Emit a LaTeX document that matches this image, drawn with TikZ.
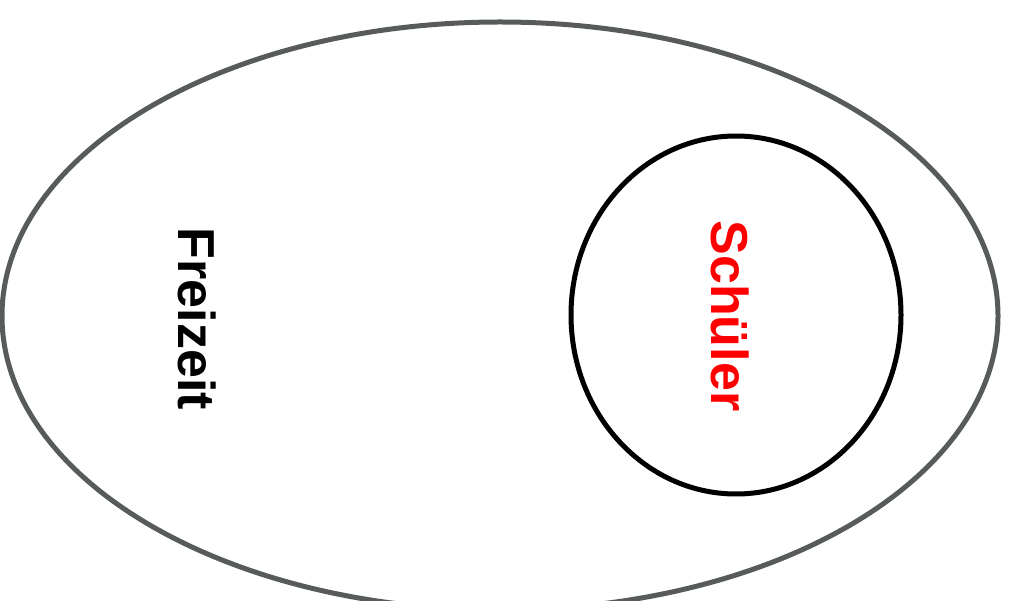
\documentclass[tikz,border=0pt]{standalone}
\usepackage{fontspec}
\setmainfont{Liberation Sans}
\definecolor{outergray}{HTML}{575B5B}
\begin{document}
\begin{tikzpicture}[x=1pt,y=-1pt,
  outer/.style={draw=outergray,line width=5pt},
  inner/.style={draw=black,line width=5pt},
  lbl/.style={font=\fontsize{52}{52}\selectfont\bfseries,rotate=-90,inner sep=0pt}]
\useasboundingbox (0,0) rectangle (1011,601);
\draw[outer] (500,316) ellipse [x radius=498, y radius=294];
\draw[inner] (736,315) ellipse [x radius=165, y radius=179];
\node[lbl] (freizeit) at (197,319) {Freizeit};
\node[lbl,text=red] (schueler) at (730,316) {Schüler};
\end{tikzpicture}
\end{document}
